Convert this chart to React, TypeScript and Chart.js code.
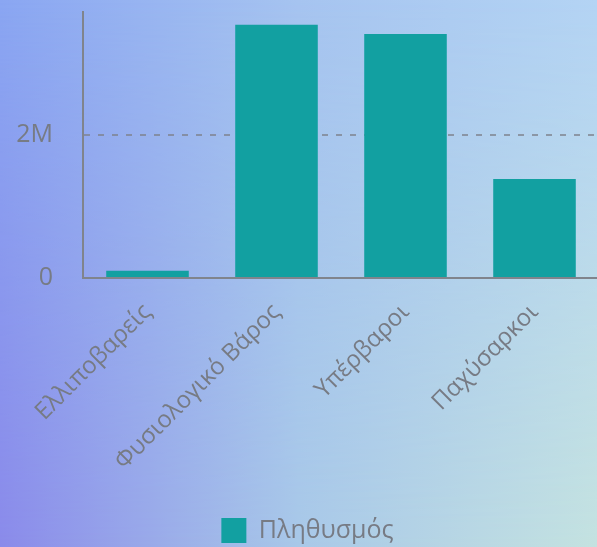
import React, { useEffect, useRef } from "react";
import { Chart, registerables } from "chart.js";

Chart.register(...registerables);

const categories = ["Ελλιποβαρείς", "Φυσιολογικό Βάρος", "Υπέρβαροι", "Παχύσαρκοι"];
const population = [100000, 3540000, 3410000, 1385000];
const tickValues = [0, 2000000];
const tickLabels = ["0", "2M"];
const seriesName = "Πληθυσμός";

const FONT = "'Open Sans', sans-serif";
const TEXT = "#777b84";
const AXIS = "#80848c";

export default function App() {
  const ref = useRef<HTMLCanvasElement | null>(null);

  useEffect(() => {
    document.body.style.margin = "0";
    document.body.style.overflow = "hidden";
    const ctx = ref.current!.getContext("2d")!;
    const chart = new Chart(ctx, {
      type: "bar",
      data: {
        labels: categories,
        datasets: [
          {
            label: seriesName,
            data: population,
            backgroundColor: "#12a0a1",
            borderWidth: 0,
            barPercentage: 0.8,
            categoryPercentage: 0.8,
          },
        ],
      },
      options: {
        animation: false,
        responsive: false,
        maintainAspectRatio: false,
        layout: { padding: { top: 11, right: 16, left: 16, bottom: 4 } },
        plugins: {
          tooltip: { enabled: false },
          legend: {
            position: "bottom",
            labels: {
              color: TEXT,
              font: { family: FONT, size: 25 },
              boxWidth: 25,
              boxHeight: 25,
              padding: 12,
            },
          },
        },
        scales: {
          x: {
            grid: { display: false, drawTicks: false },
            border: { display: true, color: AXIS, width: 2 },
            ticks: {
              color: TEXT,
              font: { family: FONT, size: 24 },
              minRotation: 45,
              maxRotation: 45,
              padding: 20,
            },
            afterFit: (s: any) => {
              s.height = 228;
            },
          },
          y: {
            min: 0,
            max: Math.max(...population) * 1.05,
            grid: {
              drawTicks: false,
              color: (c: any) => (c.tick && c.tick.value === 0 ? "rgba(0,0,0,0)" : "rgba(125,130,140,0.75)"),
              lineWidth: 2,
            },
            border: { display: true, color: AXIS, width: 2, dash: [6, 8] },
            ticks: {
              color: TEXT,
              font: { family: FONT, size: 25 },
              padding: 30,
              callback: (v: any) => {
                const i = tickValues.indexOf(Number(v));
                return i >= 0 ? tickLabels[i] : "";
              },
            },
            afterBuildTicks: (s: any) => {
              s.ticks = tickValues.map((v) => ({ value: v }));
            },
            afterFit: (s: any) => {
              s.width = 67;
            },
          },
        },
      },
    });
    return () => chart.destroy();
  }, []);

  return (
    <div style={{ position: "fixed", left: 0, top: 0, width: 597, height: 547, overflow: "hidden" }}>
      <div
        style={{
          position: "absolute",
          inset: 0,
          background: "linear-gradient(to right, #8aa6f2 0%, #a6c4f0 50%, #b4d4f4 100%)",
        }}
      />
      <div
        style={{
          position: "absolute",
          inset: 0,
          background: "linear-gradient(to right, #8a8aea 0%, #a8c8e8 50%, #c4e2e0 100%)",
          WebkitMaskImage: "linear-gradient(to bottom, rgba(0,0,0,0) 0%, rgba(0,0,0,1) 100%)",
          maskImage: "linear-gradient(to bottom, rgba(0,0,0,0) 0%, rgba(0,0,0,1) 100%)",
        }}
      />
      <canvas ref={ref} width={615} height={590} style={{ position: "absolute", left: 0, top: -33 }} />
    </div>
  );
}
